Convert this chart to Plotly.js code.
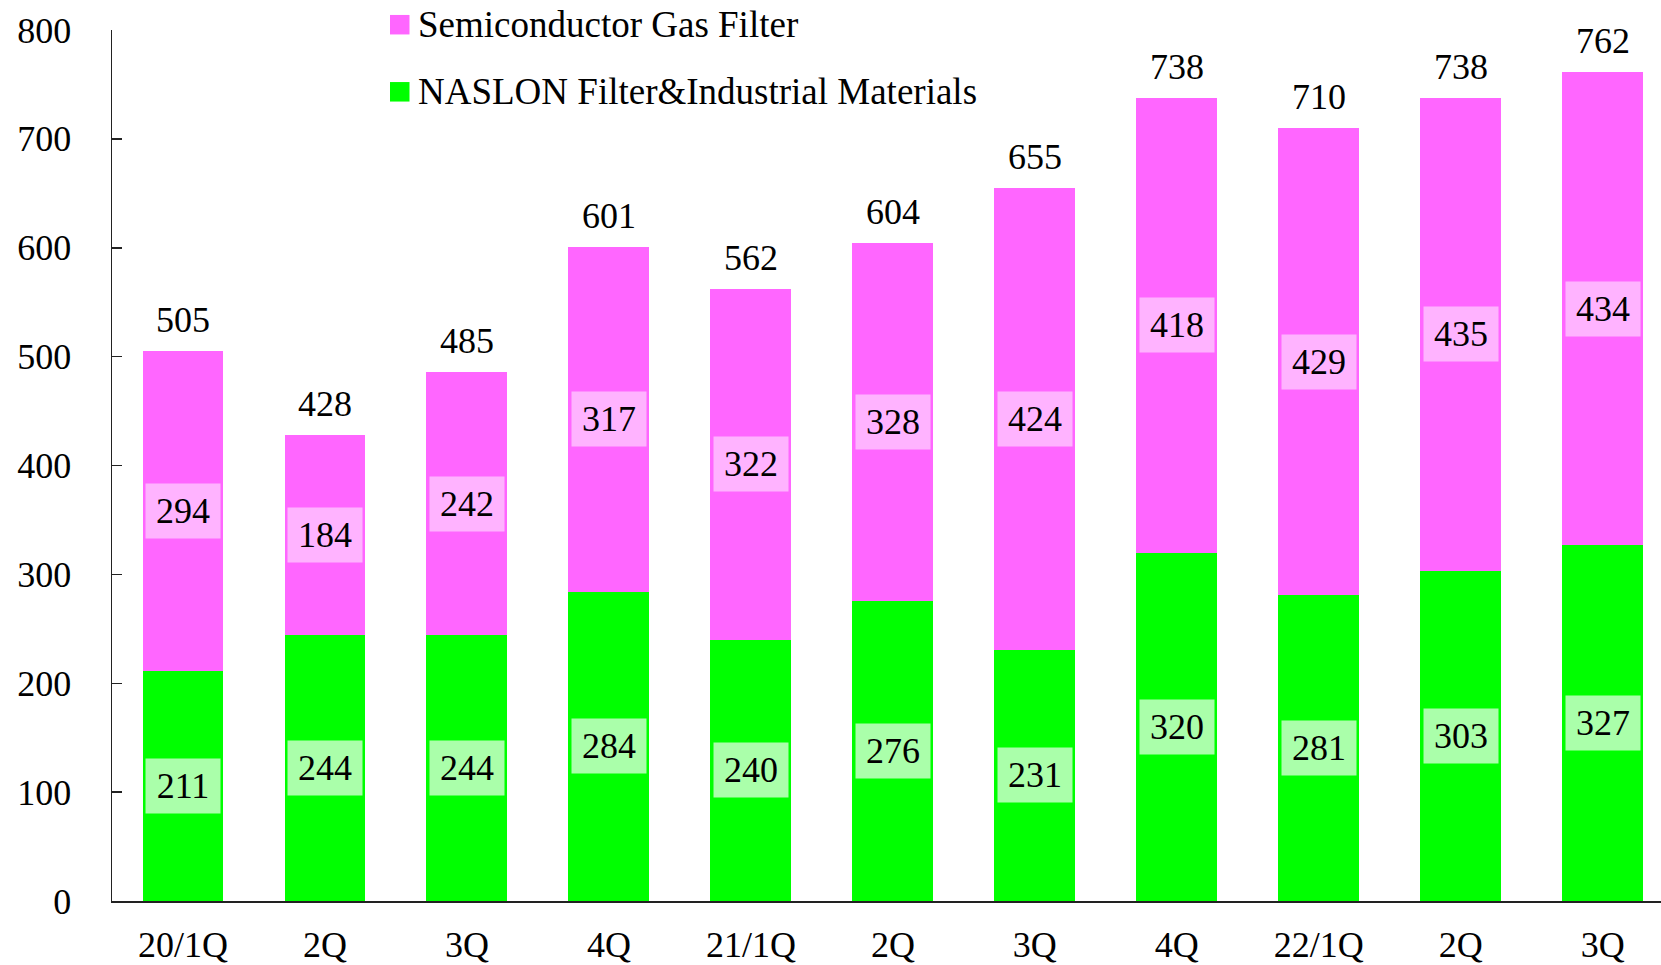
<!DOCTYPE html>
<html>
<head>
<meta charset="utf-8">
<script src="https://cdn.plot.ly/plotly-3.0.1.min.js"></script>
<style>html,body{margin:0;padding:0;background:#fff;}#chart{width:1661px;height:965px;}</style>
</head>
<body>
<div id="chart"></div>
<script>
const categories = ['20/1Q','2Q','3Q','4Q','21/1Q','2Q','3Q','4Q','22/1Q','2Q','3Q'];
const seriesNames = ['Semiconductor Gas Filter', 'NASLON Filter&Industrial Materials'];
const naslon = [211,244,244,284,240,276,231,320,281,303,327];
const semiconductor = [294,184,242,317,322,328,424,418,429,435,434];
const totals = [505,428,485,601,562,604,655,738,710,738,762];
const yTicks = [0,100,200,300,400,500,600,700,800];

const FONT = '"Liberation Serif", "Times New Roman", serif';
const PINK = '#FF66FF', GREEN = '#00FF00';
const PINK_LBL = '#FFB3FF', GREEN_LBL = '#AAFFAA';
const xs = categories.map((_, i) => i);

const W = 1661, H = 965;
const M = {l: 112, r: 0, t: 30, b: 64};
const pw = W - M.l - M.r, ph = H - M.t - M.b;
const px = x => (x - M.l) / pw;
const py = y => (H - M.b - y) / ph;

const traces = [
  {type: 'bar', x: xs, y: naslon, name: seriesNames[1], marker: {color: GREEN}, hoverinfo: 'skip'},
  {type: 'bar', x: xs, y: semiconductor, name: seriesNames[0], marker: {color: PINK}, hoverinfo: 'skip'}
];

const annotations = [];
xs.forEach((x, i) => {
  annotations.push({x: x, y: naslon[i] / 2, text: String(naslon[i]), showarrow: false,
    bgcolor: GREEN_LBL, width: 72, height: 52, font: {family: FONT, size: 36, color: '#000'}});
  annotations.push({x: x, y: naslon[i] + semiconductor[i] / 2, text: String(semiconductor[i]), showarrow: false,
    bgcolor: PINK_LBL, width: 72, height: 52, font: {family: FONT, size: 36, color: '#000'}});
  annotations.push({x: x, y: naslon[i] + semiconductor[i], text: String(totals[i]), showarrow: false,
    yanchor: 'bottom', yshift: 9, font: {family: FONT, size: 36, color: '#000'}});
});

// custom legend
const legendColors = [PINK, GREEN];
const legendY = [24.7, 91.8];
const shapes = [];
seriesNames.forEach((n, k) => {
  shapes.push({type: 'rect', xref: 'paper', yref: 'paper', line: {width: 0}, fillcolor: legendColors[k],
    x0: px(390), x1: px(409.5), y0: py(legendY[k] + 9.75), y1: py(legendY[k] - 9.75)});
  annotations.push({xref: 'paper', yref: 'paper', x: px(416), y: py(legendY[k]), xanchor: 'left', yanchor: 'middle',
    text: n, showarrow: false, font: {family: FONT, size: 37, color: '#000'}});
});

const layout = {
  width: W, height: H,
  margin: M,
  paper_bgcolor: '#fff', plot_bgcolor: '#fff',
  barmode: 'stack', bargap: 0.43,
  showlegend: false,
  font: {family: FONT, size: 36, color: '#000'},
  xaxis: {
    range: [-0.5, 10.41], tickvals: xs, ticktext: categories,
    showline: true, linecolor: '#222', linewidth: 1.5, ticks: '', showgrid: false, zeroline: false,
    tickfont: {family: FONT, size: 36, color: '#000'}, ticklabelstandoff: 11
  },
  yaxis: {
    range: [0, 800], tickvals: yTicks, ticktext: yTicks.map(String),
    showline: true, linecolor: '#222', linewidth: 1.5, ticks: 'inside', ticklen: 10, tickwidth: 1.5, tickcolor: '#222',
    showgrid: false, zeroline: false,
    tickfont: {family: FONT, size: 36, color: '#000'}, ticklabelstandoff: 32
  },
  shapes: shapes,
  annotations: annotations
};

Plotly.newPlot('chart', traces, layout, {displayModeBar: false, staticPlot: true});
</script>
</body>
</html>
